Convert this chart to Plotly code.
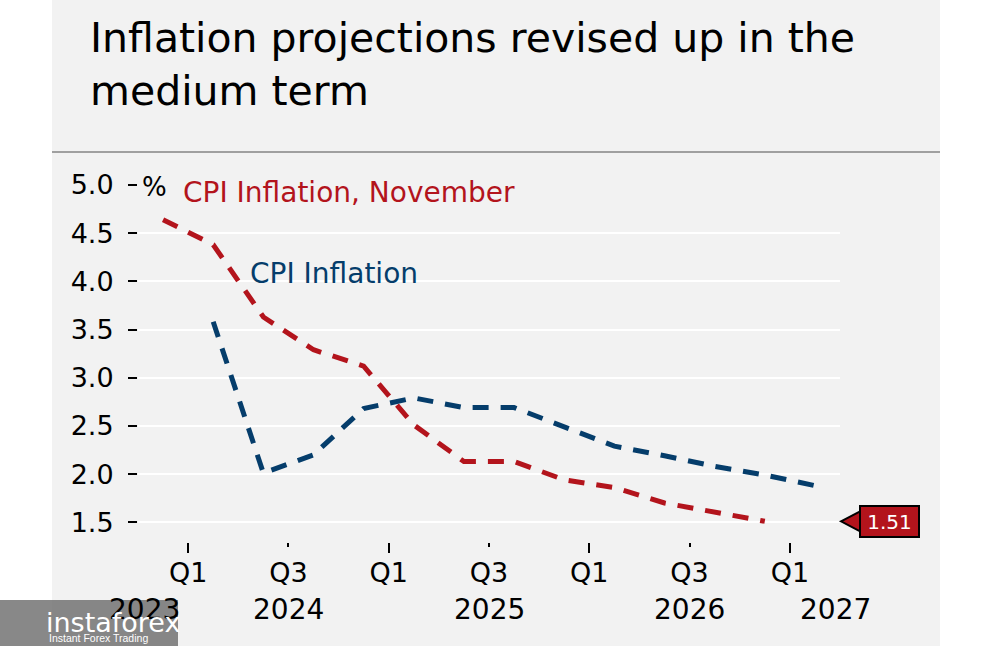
import plotly.graph_objects as go

# ---------------- data ----------------
title_text = "Inflation projections revised up in the<br>medium term"

red_name = "CPI Inflation, November"
red_quarters = ["2023 Q4", "2024 Q1", "2024 Q2", "2024 Q3", "2024 Q4",
                "2025 Q1", "2025 Q2", "2025 Q3", "2025 Q4",
                "2026 Q1", "2026 Q2", "2026 Q3", "2026 Q4"]
red_values = [4.64, 4.38, 3.63, 3.29, 3.12, 2.51, 2.13, 2.13, 1.94, 1.86, 1.70, 1.61, 1.51]

blue_name = "CPI Inflation"
blue_quarters = ["2024 Q1", "2024 Q2", "2024 Q3", "2024 Q4",
                 "2025 Q1", "2025 Q2", "2025 Q3", "2025 Q4",
                 "2026 Q1", "2026 Q2", "2026 Q3", "2026 Q4", "2027 Q1"]
blue_values = [3.58, 2.01, 2.20, 2.68, 2.79, 2.69, 2.69, 2.49, 2.29, 2.19, 2.08, 1.99, 1.88]

y_tick_values = [1.5, 2.0, 2.5, 3.0, 3.5, 4.0, 4.5, 5.0]
y_tick_labels = ["1.5", "2.0", "2.5", "3.0", "3.5", "4.0", "4.5", "5.0"]

x_tick_quarters = ["2024 Q1", "2024 Q3", "2025 Q1", "2025 Q3", "2026 Q1", "2026 Q3", "2027 Q1"]
x_tick_labels = ["Q1", "Q3", "Q1", "Q3", "Q1", "Q3", "Q1"]

year_labels = ["2023", "2024", "2025", "2026", "2027"]
year_label_x = [2023.78, 2024.5, 2025.5, 2026.5, 2027.23]

unit_label = "%"
watermark_main = "instaforex"
watermark_sub = "Instant Forex Trading"

# ---------------- styling ----------------
RED = "#b3141c"
BLUE = "#053d6b"
PANEL = "#f2f2f2"
FONT = "DejaVu Sans"

W, H = 983, 646
ML, MR, MT, MB = 138, 143, 184, 104
X_RANGE = [2023.75, 2027.25]
Y_RANGE = [1.295, 5.01]
PW = W - ML - MR
PH = H - MT - MB


def q_start(s):
    y, q = s.split(" Q")
    return int(y) + (int(q) - 1) / 4


def q_mid(s):
    return q_start(s) + 0.125


def px_x(px):
    return (px - ML) / PW


def px_y(py):
    return (H - MB - py) / PH


red_x = [q_mid(s) for s in red_quarters]
blue_x = [q_mid(s) for s in blue_quarters]

fig = go.Figure()

fig.add_trace(go.Scatter(
    x=red_x, y=red_values, mode="lines", name=red_name,
    line=dict(color=RED, width=5, dash="16px,12px"),
    showlegend=False, hoverinfo="skip"))

fig.add_trace(go.Scatter(
    x=blue_x, y=blue_values, mode="lines", name=blue_name,
    line=dict(color=BLUE, width=5, dash="16px,12px"),
    showlegend=False, hoverinfo="skip"))

# invisible trace for the long Q1 tick axis
fig.add_trace(go.Scatter(x=[None], y=[None], xaxis="x2", yaxis="y",
                         showlegend=False, hoverinfo="skip"))

y_per_px = (Y_RANGE[1] - Y_RANGE[0]) / PH
end_val = red_values[-1]
tri_h = 11 * y_per_px
tri_path = (f"M {1 + 1 / PW} {end_val} "
            f"L {1 + 22 / PW} {end_val + tri_h} "
            f"L {1 + 22 / PW} {end_val - tri_h} Z")

shapes = [
    dict(type="rect", xref="paper", yref="paper",
         x0=px_x(52), x1=px_x(940), y0=px_y(H + 5), y1=px_y(-5),
         fillcolor=PANEL, line=dict(width=0), layer="below"),
    dict(type="line", xref="paper", yref="paper",
         x0=px_x(52), x1=px_x(940), y0=px_y(152), y1=px_y(152),
         line=dict(color="#a0a0a0", width=2), layer="below"),
    dict(type="path", xref="paper", yref="y", path=tri_path,
         fillcolor=RED, line=dict(color="black", width=2), layer="above"),
    dict(type="rect", xref="paper", yref="paper",
         x0=px_x(-5), x1=px_x(178), y0=px_y(H + 5), y1=px_y(600),
         fillcolor="rgba(110,110,110,0.82)", line=dict(width=0), layer="above"),
]

annotations = [
    dict(text=unit_label, xref="paper", yref="y", x=0, y=4.98,
         xanchor="left", yanchor="middle", xshift=2, showarrow=False,
         font=dict(family=FONT, size=26, color="black")),
    dict(text=red_name, xref="x", yref="y", x=2023.965, y=4.92,
         xanchor="left", yanchor="middle", showarrow=False,
         font=dict(family=FONT, size=28, color=RED)),
    dict(text=blue_name, xref="x", yref="y", x=2024.30, y=4.08,
         xanchor="left", yanchor="middle", showarrow=False,
         font=dict(family=FONT, size=28, color=BLUE)),
    dict(text=f"{end_val:.2f}", xref="paper", yref="y", x=1, y=end_val,
         xanchor="left", yanchor="middle", xshift=19, showarrow=False,
         bgcolor=RED, bordercolor="black", borderwidth=2, borderpad=1,
         width=55, height=27,
         font=dict(family=FONT, size=20, color="white")),
]
for lbl, xv in zip(year_labels, year_label_x):
    annotations.append(dict(text=lbl, xref="x", yref="paper", x=xv, y=0,
                            xanchor="center", yanchor="middle", yshift=-67,
                            showarrow=False,
                            font=dict(family=FONT, size=28, color="black")))

annotations += [
    dict(text=watermark_main, xref="paper", yref="paper", x=px_x(44), y=px_y(622),
         xanchor="left", yanchor="middle", showarrow=False,
         font=dict(family=FONT, size=27, color="white")),
    dict(text=watermark_sub, xref="paper", yref="paper", x=px_x(47), y=px_y(638),
         xanchor="left", yanchor="middle", showarrow=False,
         font=dict(family="Liberation Sans", size=10.5, color="white")),
]

fig.update_layout(
    width=W, height=H,
    margin=dict(l=ML, r=MR, t=MT, b=MB),
    paper_bgcolor="white",
    plot_bgcolor="rgba(0,0,0,0)",
    title=dict(text=title_text, xref="container", yref="container",
               x=90 / W, y=1 - 52 / H, xanchor="left", yanchor="top",
               font=dict(family=FONT, size=41, color="black")),
    xaxis=dict(range=X_RANGE, tickmode="array",
               tickvals=[q_start(s) for s in x_tick_quarters], ticktext=x_tick_labels,
               ticks="outside", ticklen=4, tickwidth=2, tickcolor="black",
               showgrid=False, zeroline=False, showline=False,
               ticklabelstandoff=3,
               tickfont=dict(family=FONT, size=27, color="black")),
    xaxis2=dict(range=X_RANGE, overlaying="x", anchor="y", side="bottom",
                tickmode="array",
                tickvals=[q_start(s) for s, t in zip(x_tick_quarters, x_tick_labels) if t == "Q1"],
                ticks="outside", ticklen=10, tickwidth=2, tickcolor="black",
                showticklabels=False, showgrid=False, zeroline=False, showline=False),
    yaxis=dict(range=Y_RANGE, tickmode="array", tickvals=y_tick_values, ticktext=y_tick_labels,
               ticks="outside", ticklen=9, tickwidth=2, tickcolor="black",
               gridcolor="white", gridwidth=2, zeroline=False, showline=False,
               ticklabelstandoff=9,
               tickfont=dict(family=FONT, size=27, color="black")),
    shapes=shapes,
    annotations=annotations,
    showlegend=False,
)

fig.write_html("out.html",
               config={"displayModeBar": False},
               post_script="document.body.style.margin='0';document.body.style.overflow='hidden';")
